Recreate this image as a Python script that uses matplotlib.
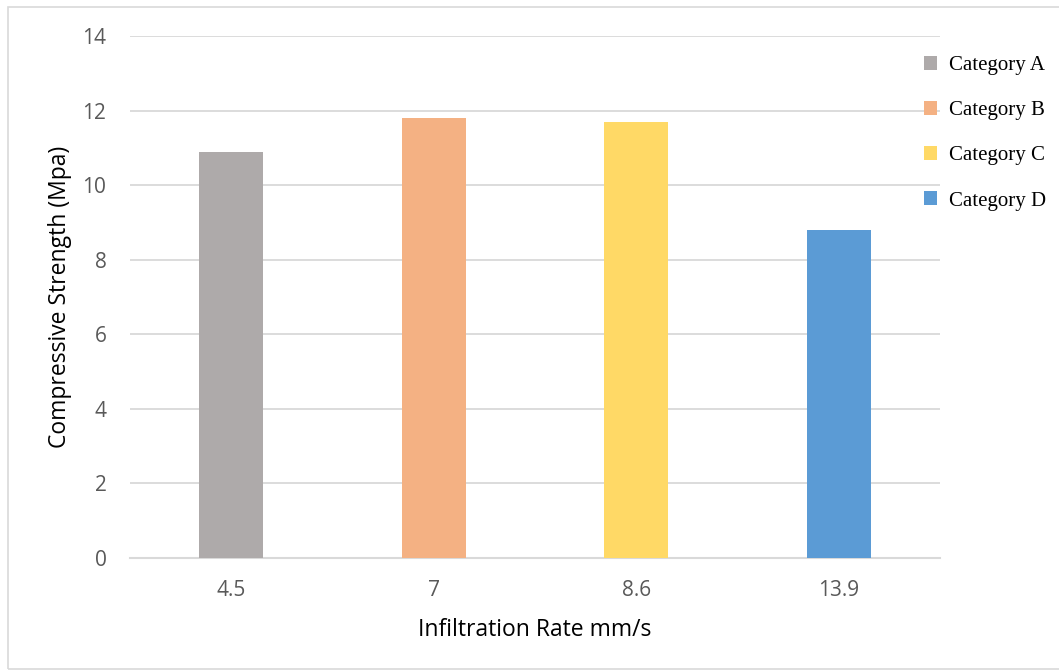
import matplotlib.pyplot as plt
from matplotlib.patches import Patch, Rectangle

# data
rates = ["4.5", "7", "8.6", "13.9"]
strength = [10.9, 11.8, 11.7, 8.8]
categories = ["Category A", "Category B", "Category C", "Category D"]
colors = ["#aeaaaa", "#f4b183", "#ffd966", "#5b9bd5"]

W, H = 1059, 672
fig = plt.figure(figsize=(W / 100, H / 100), dpi=100)
fig.patches.append(Rectangle((8 / W, 3 / H), 1.2, 1 - 10 / H, transform=fig.transFigure,
                             fill=False, edgecolor="#d9d9d9", linewidth=1.2))

ax = fig.add_axes([130 / W, (H - 558) / H, 810 / W, 522 / H])
x = range(len(rates))
ax.bar(x, strength, width=0.316, color=colors, zorder=3)

ax.set_xlim(-0.5, len(rates) - 0.5)
ax.set_ylim(0, 14)
ax.set_yticks(range(0, 15, 2))
ax.set_xticks(list(x))
ax.set_xticklabels(rates)

ax.grid(axis="y", color="#d9d9d9", linewidth=1.3, zorder=0)
for s in ["top", "right", "left"]:
    ax.spines[s].set_visible(False)
ax.spines["bottom"].set_color("#d9d9d9")
ax.spines["bottom"].set_linewidth(1.5)
ax.tick_params(axis="both", length=0, labelsize=15, labelcolor="#595959",
               labelfontfamily="Open Sans")
ax.tick_params(axis="y", pad=17)
ax.tick_params(axis="x", pad=16)

ax.set_xlabel("Infiltration Rate mm/s", fontsize=16.5, family="Open Sans", color="#000000", labelpad=12)
ax.set_ylabel("Compressive Strength (Mpa)", fontsize=16.5, family="Open Sans", color="#000000", labelpad=7.5)

handles = [Patch(facecolor=c, edgecolor="none") for c in colors]
fig.legend(handles, categories, loc="upper left", bbox_to_anchor=(924 / W, (H - 56) / H),
           frameon=False, borderpad=0, borderaxespad=0, labelspacing=1.25, handlelength=0.625,
           handleheight=0.625, handletextpad=0.58, prop={"family": "Liberation Serif", "size": 15})

fig.savefig("out.png", dpi=100)
